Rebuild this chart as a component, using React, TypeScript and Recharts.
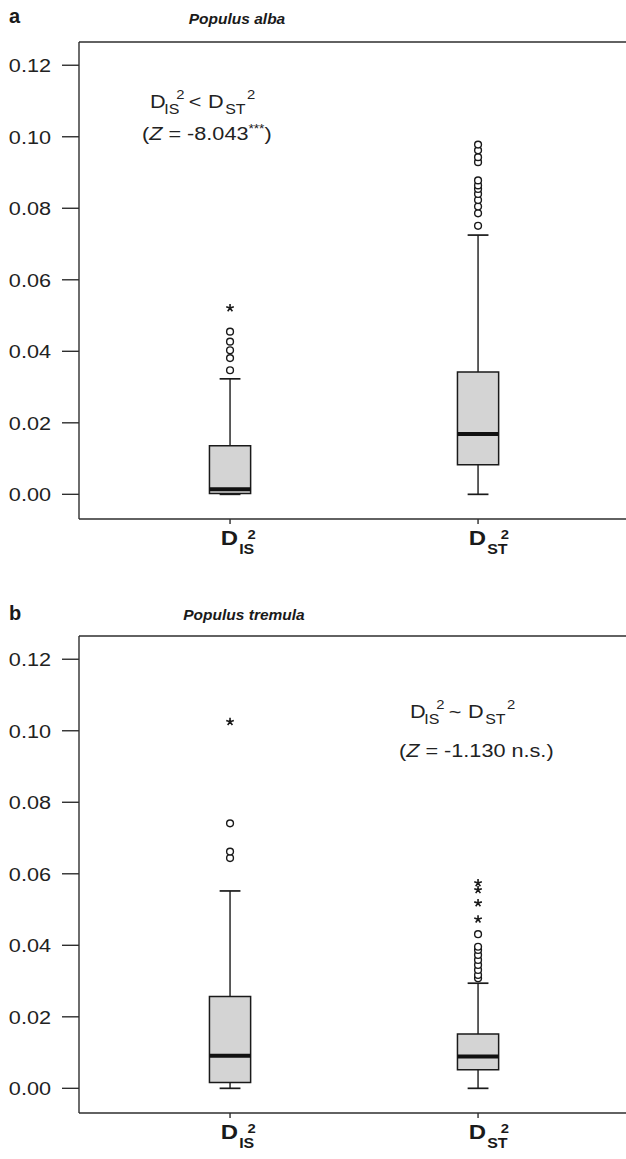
import React from 'react';
import { ComposedChart, XAxis, YAxis, Scatter, ReferenceArea, ReferenceLine } from 'recharts';

// ---- data ----
const xPositions = [1, 2];
const xSubLabels = ['IS', 'ST'];
const yTicks = [0, 0.02, 0.04, 0.06, 0.08, 0.1, 0.12];

const albaLow = [0, 0];
const albaQ1 = [0.0002, 0.0083];
const albaMedian = [0.0014, 0.0169];
const albaQ3 = [0.0136, 0.0342];
const albaHigh = [0.0323, 0.0725];
const albaOutliersIS = [0.0347, 0.0381, 0.0403, 0.0427, 0.0455];
const albaExtremesIS = [0.0521];
const albaOutliersST = [0.0751, 0.0786, 0.0805, 0.0823, 0.084, 0.0854, 0.0864, 0.0878, 0.0929, 0.0943, 0.0962, 0.0978];
const albaExtremesST: number[] = [];

const tremLow = [0, 0];
const tremQ1 = [0.0016, 0.0052];
const tremMedian = [0.0091, 0.0089];
const tremQ3 = [0.0257, 0.0152];
const tremHigh = [0.0552, 0.0294];
const tremOutliersIS = [0.0644, 0.0662, 0.0741];
const tremExtremesIS = [0.1025];
const tremOutliersST = [0.0308, 0.0317, 0.0331, 0.0345, 0.0359, 0.0373, 0.0387, 0.0396, 0.0431];
const tremExtremesST = [0.0473, 0.0518, 0.0555, 0.0574];

// ---- styles ----
const FONT = '"Liberation Sans", Arial, Helvetica, sans-serif';
const LINE = '#2e2e2e';
const INK = '#1a1a1a';
const BOX_FILL = '#d4d4d4';
const STRETCH = 1.14;
const CHART_W = 640;
const X_DOMAIN: [number, number] = [0.391, 2.653];
const Y_DOMAIN: [number, number] = [-0.0069, 0.1265];
const BOX_HALF = 0.083;
const CAP_HALF = 0.042;

const Circle = (p: any) => (
  <circle cx={p.cx} cy={p.cy} r={3.4} fill="#fff" stroke={INK} strokeWidth={1.4} />
);

const Star = (p: any) => {
  const r = 4;
  const arms = [-90, -18, 54, 126, 198].map((a) => {
    const t = (a * Math.PI) / 180;
    return `M${p.cx},${p.cy}L${p.cx + r * Math.cos(t)},${p.cy + r * Math.sin(t)}`;
  });
  return <path d={arms.join('')} stroke={INK} strokeWidth={1.6} fill="none" />;
};

const XTick = (props: any) => {
  const { x, y, payload } = props;
  const idx = xPositions.indexOf(payload.value);
  const sub = xSubLabels[idx];
  return (
    <g transform={`translate(${x},${y}) scale(${STRETCH},1)`} fontFamily={FONT} fontWeight="bold" fill={INK}>
      <text x={7} y={19} fontSize={21} textAnchor="end">D</text>
      <text x={8} y={28} fontSize={14}>
        {sub}
        <tspan dx={-6} dy={-15} fontSize={13}>2</tspan>
      </text>
    </g>
  );
};

const YTick = (props: any) => {
  const { x, y, payload } = props;
  return (
    <g transform={`translate(${x},${y}) scale(${STRETCH},1)`}>
      <text x={0} y={0} dy={7} textAnchor="end" fontFamily={FONT} fontSize={19} fill="#222">
        {Number(payload.value).toFixed(2)}
      </text>
    </g>
  );
};

type PanelProps = {
  height: number;
  low: number[];
  q1: number[];
  median: number[];
  q3: number[];
  high: number[];
  outliers: number[][];
  extremes: number[][];
};

const Panel = ({ height, low, q1, median, q3, high, outliers, extremes }: PanelProps) => {
  const outlierData = outliers.flatMap((arr, i) => arr.map((v) => ({ x: xPositions[i], y: v })));
  const extremeData = extremes.flatMap((arr, i) => arr.map((v) => ({ x: xPositions[i], y: v })));
  return (
    <ComposedChart width={CHART_W} height={height} margin={{ top: 42, right: 0, bottom: height - 519 - 40, left: 0 }}>
      <XAxis
        type="number"
        dataKey="x"
        domain={X_DOMAIN}
        ticks={xPositions}
        allowDataOverflow
        height={40}
        tickSize={5}
        tickMargin={2}
        stroke={LINE}
        strokeWidth={1.4}
        tick={<XTick />}
        interval={0}
      />
      <YAxis
        type="number"
        dataKey="y"
        domain={Y_DOMAIN}
        ticks={yTicks}
        allowDataOverflow
        width={79}
        tickSize={17}
        tickMargin={11}
        stroke={LINE}
        strokeWidth={1.4}
        tick={<YTick />}
        interval={0}
      />
      <ReferenceLine y={Y_DOMAIN[1]} stroke={LINE} strokeWidth={1.4} ifOverflow="visible" />
      {xPositions.map((pos, i) => (
        <ReferenceLine
          key={`wu${i}`}
          segment={[{ x: pos, y: q3[i] }, { x: pos, y: high[i] }]}
          stroke={INK}
          strokeWidth={1.4}
          ifOverflow="visible"
        />
      ))}
      {xPositions.map((pos, i) => (
        <ReferenceLine
          key={`wl${i}`}
          segment={[{ x: pos, y: low[i] }, { x: pos, y: q1[i] }]}
          stroke={INK}
          strokeWidth={1.4}
          ifOverflow="visible"
        />
      ))}
      {xPositions.map((pos, i) => (
        <ReferenceLine
          key={`cu${i}`}
          segment={[{ x: pos - CAP_HALF, y: high[i] }, { x: pos + CAP_HALF, y: high[i] }]}
          stroke={INK}
          strokeWidth={1.7}
          ifOverflow="visible"
        />
      ))}
      {xPositions.map((pos, i) => (
        <ReferenceLine
          key={`cl${i}`}
          segment={[{ x: pos - CAP_HALF, y: low[i] }, { x: pos + CAP_HALF, y: low[i] }]}
          stroke={INK}
          strokeWidth={1.7}
          ifOverflow="visible"
        />
      ))}
      {xPositions.map((pos, i) => (
        <ReferenceArea
          key={`b${i}`}
          x1={pos - BOX_HALF}
          x2={pos + BOX_HALF}
          y1={q1[i]}
          y2={q3[i]}
          fill={BOX_FILL}
          fillOpacity={1}
          stroke={INK}
          strokeWidth={1.5}
          ifOverflow="visible"
        />
      ))}
      {xPositions.map((pos, i) => (
        <ReferenceLine
          key={`m${i}`}
          segment={[{ x: pos - BOX_HALF, y: median[i] }, { x: pos + BOX_HALF, y: median[i] }]}
          stroke="#111"
          strokeWidth={4}
          ifOverflow="visible"
        />
      ))}
      <Scatter data={outlierData} dataKey="y" shape={<Circle />} isAnimationActive={false} />
      <Scatter data={extremeData} dataKey="y" shape={<Star />} isAnimationActive={false} />
    </ComposedChart>
  );
};

// first annotation line: D_IS^2 <rel> D_ST^2, laid out in unstretched units
const AnnoLine = ({ x, y, rel }: { x: number; y: number; rel: string }) => (
  <g transform={`translate(${x},${y}) scale(${STRETCH},1)`} fontFamily={FONT} fill="#222">
    <text x={0} y={0} fontSize={19}>D</text>
    <text x={12.5} y={6} fontSize={14}>IS</text>
    <text x={23} y={-9} fontSize={13}>2</text>
    <text x={34} y={0} fontSize={19}>{rel}</text>
    <text x={51} y={0} fontSize={19}>D</text>
    <text x={66} y={6} fontSize={14}>ST</text>
    <text x={85} y={-9} fontSize={13}>2</text>
  </g>
);

export default function App() {
  return (
    <div style={{ position: 'absolute', left: 0, top: 0, width: 626, height: 1159, overflow: 'hidden', background: '#fff' }}>
      <style>{'html,body{margin:0;padding:0;overflow:hidden;}'}</style>
      <div style={{ position: 'absolute', left: 0, top: 0 }}>
        <Panel
          height={580}
          low={albaLow}
          q1={albaQ1}
          median={albaMedian}
          q3={albaQ3}
          high={albaHigh}
          outliers={[albaOutliersIS, albaOutliersST]}
          extremes={[albaExtremesIS, albaExtremesST]}
        />
      </div>
      <div style={{ position: 'absolute', left: 0, top: 594 }}>
        <Panel
          height={565}
          low={tremLow}
          q1={tremQ1}
          median={tremMedian}
          q3={tremQ3}
          high={tremHigh}
          outliers={[tremOutliersIS, tremOutliersST]}
          extremes={[tremExtremesIS, tremExtremesST]}
        />
      </div>
      <svg width={626} height={1159} style={{ position: 'absolute', left: 0, top: 0, pointerEvents: 'none' }}>
        <text x={9} y={23} fontFamily={FONT} fontSize={20} fontWeight="bold" fill={INK}>a</text>
        <text x={237} y={24} fontFamily={FONT} fontSize={15.5} fontWeight="bold" fontStyle="italic" textAnchor="middle" fill={INK}>Populus alba</text>
        <AnnoLine x={150} y={108} rel="<" />
        <g transform={`translate(142,140) scale(${STRETCH},1)`}>
          <text x={0} y={0} fontFamily={FONT} fontSize={19} fill="#222">
            (<tspan fontStyle="italic">Z</tspan> = -8.043<tspan fontSize={12} dy={-7}>***</tspan><tspan dy={7}>)</tspan>
          </text>
        </g>

        <text x={9} y={620} fontFamily={FONT} fontSize={20} fontWeight="bold" fill={INK}>b</text>
        <text x={244} y={620} fontFamily={FONT} fontSize={15.5} fontWeight="bold" fontStyle="italic" textAnchor="middle" fill={INK}>Populus tremula</text>
        <AnnoLine x={410} y={718} rel="~" />
        <g transform={`translate(399,757) scale(${STRETCH},1)`}>
          <text x={0} y={0} fontFamily={FONT} fontSize={19} fill="#222">
            (<tspan fontStyle="italic">Z</tspan> = -1.130 n.s.)
          </text>
        </g>
      </svg>
    </div>
  );
}
